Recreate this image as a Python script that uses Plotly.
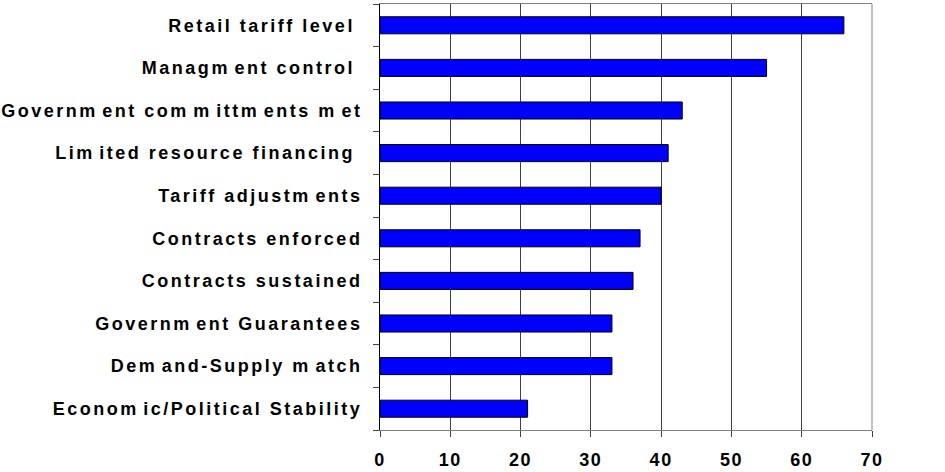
import plotly.graph_objects as go

categories = [
    "Retail tariff level\u00a0",
    "Managment control\u00a0",
    "Government committments met",
    "Limited resource financing\u00a0",
    "Tariff adjustments",
    "Contracts enforced",
    "Contracts sustained",
    "Government Guarantees",
    "Demand-Supply match",
    "Economic/Political Stability",
]
values = [66, 55, 43, 41, 40, 37, 36, 33, 33, 21]
x_ticks = [0, 10, 20, 30, 40, 50, 60, 70]

FONT = "Liberation Sans, Arial, sans-serif"

fig = go.Figure(
    go.Bar(
        y=categories,
        x=values,
        orientation="h",
        width=0.4,
        marker=dict(color="#0000FF", line=dict(color="black", width=1)),
        hoverinfo="x+y",
    )
)

fig.update_layout(
    width=945,
    height=472,
    margin=dict(l=380, r=73, t=4, b=42, pad=0),
    paper_bgcolor="white",
    plot_bgcolor="white",
    showlegend=False,
    template="none",
    shapes=[
        dict(type="line", xref="paper", yref="paper", x0=1, x1=1, y0=0, y1=1,
             line=dict(color="#808080", width=1)),
    ],
)

fig.update_xaxes(
    range=[0, 70],
    tickvals=x_ticks,
    ticktext=[str(v) for v in x_ticks],
    showgrid=True,
    gridcolor="#404040",
    gridwidth=1,
    zeroline=False,
    showline=True,
    linecolor="#808080",
    linewidth=1,
    mirror=True,
    ticks="outside",
    ticklen=6,
    tickcolor="#404040",
    tickfont=dict(family=FONT, size=18, weight="bold", color="black"),
    ticklabelstandoff=7,
    automargin=False,
)

fig.update_yaxes(
    categoryorder="array",
    categoryarray=categories[::-1],
    showgrid=False,
    zeroline=False,
    showline=True,
    linecolor="black",
    linewidth=1,
    ticks="outside",
    tickson="boundaries",
    ticklen=6,
    tickcolor="#404040",
    tickfont=dict(family=FONT, size=18, weight="bold", color="black"),
    ticklabelstandoff=13,
    automargin=False,
)

post_script = """
var gd = document.getElementById('{plot_id}');
var SVGNS = 'http://www.w3.org/2000/svg';
function spaceText(){
  gd.querySelectorAll('.ytick text').forEach(function(t){
    t.style.letterSpacing = '2.5px';
    if (t.getAttribute('data-sp')) return;
    var s = t.textContent;
    while (t.firstChild) t.removeChild(t.firstChild);
    var buf = '';
    function flush(){ if (buf) { t.appendChild(document.createTextNode(buf)); buf = ''; } }
    for (var i = 0; i < s.length; i++) {
      var ch = s[i];
      if (ch === 'm') {
        flush();
        var sp = document.createElementNS(SVGNS, 'tspan');
        sp.textContent = 'm';
        sp.style.letterSpacing = '7px';
        t.appendChild(sp);
      } else { buf += ch; }
    }
    flush();
    t.setAttribute('data-sp', '1');
  });
  gd.querySelectorAll('.xtick text').forEach(function(t){ t.style.letterSpacing = '1.5px'; });
}
spaceText();
gd.on('plotly_afterplot', spaceText);
"""

fig.write_html("out.html", post_script=post_script)
